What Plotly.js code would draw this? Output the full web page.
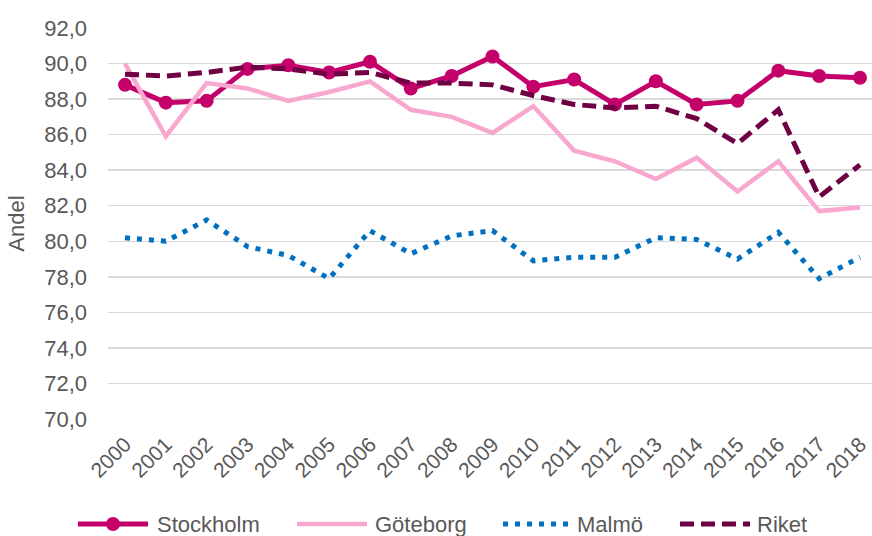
<!DOCTYPE html>
<html>
<head>
<meta charset="utf-8">
<script src="https://cdn.plot.ly/plotly-3.0.1.min.js"></script>
<style>html,body{margin:0;padding:0;background:#fff;}#chart{width:872px;height:536px;}</style>
</head>
<body>
<div id="chart"></div>
<script>
const years = [2000,2001,2002,2003,2004,2005,2006,2007,2008,2009,2010,2011,2012,2013,2014,2015,2016,2017,2018];
const yearLabels = years.map(String);
const stockholm = [88.8,87.8,87.9,89.7,89.9,89.5,90.1,88.6,89.3,90.4,88.7,89.1,87.7,89.0,87.7,87.9,89.6,89.3,89.2];
const goteborg  = [90.0,85.9,88.9,88.6,87.9,88.4,89.0,87.4,87.0,86.1,87.6,85.1,84.5,83.5,84.7,82.8,84.5,81.7,81.9];
const malmo     = [80.2,80.0,81.2,79.7,79.2,77.9,80.6,79.3,80.3,80.6,78.9,79.1,79.1,80.2,80.1,79.0,80.5,77.9,79.1];
const riket     = [89.4,89.3,89.5,89.8,89.7,89.4,89.5,88.9,88.9,88.8,88.2,87.7,87.5,87.6,86.9,85.5,87.4,82.5,84.3];
const yTicks = [70,72,74,76,78,80,82,84,86,88,90,92];
const seriesNames = ['Stockholm','Göteborg','Malmö','Riket'];

const colors = {sth: '#C4006A', gbg: '#F8A8CF', mlm: '#0070C0', rik: '#6E0043'};
const styles = [
  {color: colors.sth, width: 5, dash: 'solid', marker: true},
  {color: colors.gbg, width: 4.5, dash: 'solid', marker: false},
  {color: colors.mlm, width: 5, dash: '5px,7px', marker: false},
  {color: colors.rik, width: 5, dash: '14px,7px', marker: false}
];
const seriesData = [stockholm, goteborg, malmo, riket];

const traces = seriesData.map((vals, i) => {
  const s = styles[i];
  const t = {x: years, y: vals, name: seriesNames[i], type: 'scatter',
    mode: s.marker ? 'lines+markers' : 'lines',
    line: {color: s.color, width: s.width, dash: s.dash}, showlegend: false};
  if (s.marker) t.marker = {color: s.color, size: 14};
  return t;
});

// plot-area geometry in pixels (for the hand-made legend)
const M = {l: 108, r: 0, t: 28, b: 117};
const W = 872, H = 536;
const pw = W - M.l - M.r, ph = H - M.t - M.b;
const px = p => (p - M.l) / pw;
const py = p => (H - M.b - p) / ph;

const legSym = [78, 297, 503, 680];   // symbol start (px)
const legTxt = [155, 373, 575, 755];  // text start (px)
const legY = 524, symLen = 70;
const shapes = [], annotations = [];
seriesNames.forEach((n, i) => {
  const s = styles[i];
  shapes.push({type: 'line', xref: 'paper', yref: 'paper',
    x0: px(legSym[i]), x1: px(legSym[i] + symLen), y0: py(legY), y1: py(legY),
    line: {color: s.color, width: s.width, dash: s.dash}});
  if (s.marker) {
    const c = legSym[i] + symLen / 2, r = 7;
    shapes.push({type: 'circle', xref: 'paper', yref: 'paper',
      x0: px(c - r), x1: px(c + r), y0: py(legY + r), y1: py(legY - r),
      fillcolor: s.color, line: {color: s.color, width: 0}});
  }
  annotations.push({text: n, xref: 'paper', yref: 'paper', x: px(legTxt[i]), y: py(legY),
    xanchor: 'left', yanchor: 'middle', showarrow: false,
    font: {size: 22, color: '#595959'}});
});

const layout = {
  width: W, height: H,
  margin: M,
  paper_bgcolor: '#fff', plot_bgcolor: '#fff',
  separators: ', ',
  font: {family: 'Liberation Sans, Arial, sans-serif', size: 22, color: '#595959'},
  showlegend: false,
  shapes: shapes,
  annotations: annotations,
  xaxis: {
    range: [1999.584, 2018.294],
    tickvals: years, ticktext: yearLabels, tickangle: -45,
    showgrid: false, zeroline: false, showline: false, ticks: '',
    ticklabelstandoff: 8,
    tickfont: {size: 21, color: '#595959'}
  },
  yaxis: {
    range: [70, 92], tickvals: yTicks, tickformat: '.1f',
    showgrid: true, gridcolor: '#D9D9D9', gridwidth: 1.5,
    zeroline: false, showline: false, ticks: '',
    ticklabelstandoff: 20,
    tickfont: {size: 22, color: '#595959'},
    title: {text: 'Andel', font: {size: 22, color: '#595959'}, standoff: 13}
  }
};

Plotly.newPlot('chart', traces, layout, {displayModeBar: false, staticPlot: true});
</script>
</body>
</html>
